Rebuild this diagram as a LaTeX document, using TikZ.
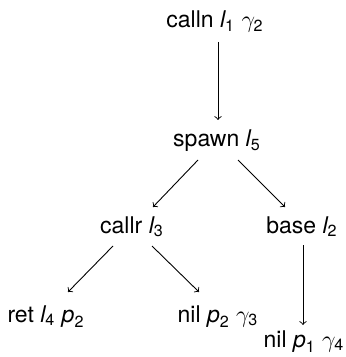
\documentclass[tikz,border=0pt]{standalone}
\usepackage{fontspec}
\setmainfont{TeX Gyre Heros}
\usetikzlibrary{calc}
\newcommand{\lab}[1]{\textit{l}_{\mathrm{#1}}}
\newcommand{\pv}[1]{\textit{p}_{\mathrm{#1}}}
\newcommand{\gv}[1]{\gamma_{\mathrm{#1}}}
\begin{document}
\begin{tikzpicture}[x=0.5pt,y=-0.5pt,
  term/.style={inner sep=0pt,anchor=base,font=\fontsize{11.5}{14}\selectfont},
  edge/.style={->,line width=0.45pt}]
\useasboundingbox (0,0) rectangle (345,357);
% tree nodes, placed by their baselines
\node[term] (calln) at (215,28)  {calln $\lab{1}$ $\gv{2}$};
\node[term] (spawn) at (217,147) {spawn $\lab{5}$};
\node[term] (callr) at (132,233) {callr $\lab{3}$};
\node[term] (base)  at (302,233) {base $\lab{2}$};
\node[term] (ret)   at (46,322)  {ret $\lab{4}$ $\pv{2}$};
\node[term] (nilA)  at (218,322) {nil $\pv{2}$ $\gv{3}$};
\node[term] (nilB)  at (304,347) {nil $\pv{1}$ $\gv{4}$};
% edges
\draw[edge] ($(calln.base)+(3,14)$)   -- ($(spawn.base)+(1,-27)$);
\draw[edge] ($(spawn.base)+(-19,13)$) -- ($(callr.base)+(21,-26)$);
\draw[edge] ($(spawn.base)+(21,13)$)  -- ($(base.base)+(-17,-26)$);
\draw[edge] ($(callr.base)+(-19,13)$) -- ($(ret.base)+(22,-30)$);
\draw[edge] ($(callr.base)+(20,13)$)  -- ($(nilA.base)+(-19,-30)$);
\draw[edge] ($(base.base)+(1,12)$)    -- ($(nilB.base)+(-1,-22)$);
\end{tikzpicture}
\end{document}
